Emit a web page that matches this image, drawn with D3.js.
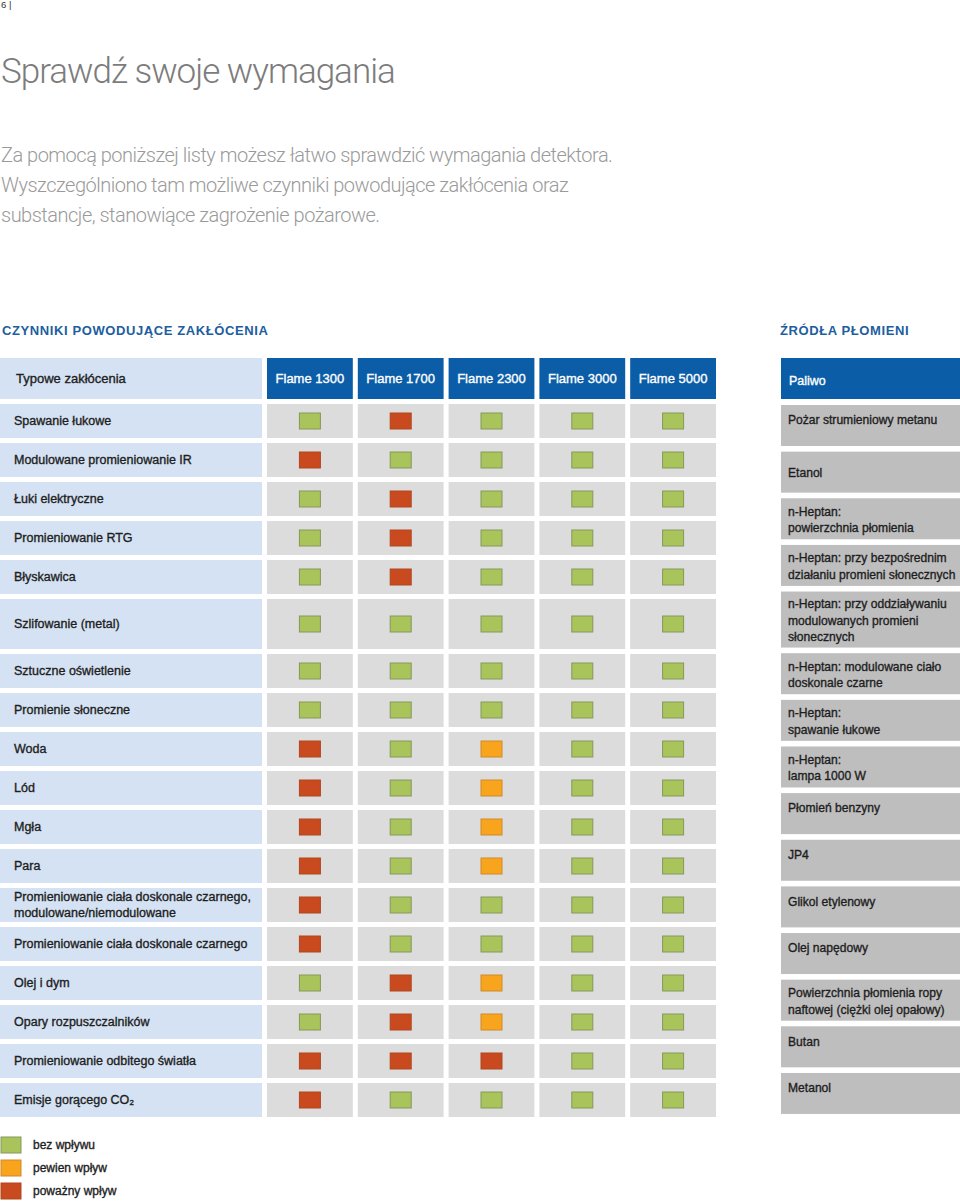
<!DOCTYPE html>
<html><head><meta charset="utf-8">
<script src="https://cdn.jsdelivr.net/npm/d3@7/dist/d3.min.js"></script>
<style>
body{margin:0;background:#fff;}
svg{display:block;}
</style></head>
<body>
<script>
// ---------- DATA ----------
const flames = ["Flame 1300", "Flame 1700", "Flame 2300", "Flame 3000", "Flame 5000"];
const disturbances = [
  ["Spawanie łukowe"],
  ["Modulowane promieniowanie IR"],
  ["Łuki elektryczne"],
  ["Promieniowanie RTG"],
  ["Błyskawica"],
  ["Szlifowanie (metal)"],
  ["Sztuczne oświetlenie"],
  ["Promienie słoneczne"],
  ["Woda"],
  ["Lód"],
  ["Mgła"],
  ["Para"],
  ["Promieniowanie ciała doskonale czarnego,", "modulowane/niemodulowane"],
  ["Promieniowanie ciała doskonale czarnego"],
  ["Olej i dym"],
  ["Opary rozpuszczalników"],
  ["Promieniowanie odbitego światła"],
  ["Emisje gorącego CO₂"]
];
// 0 = bez wpływu, 1 = pewien wpływ, 2 = poważny wpływ
const impact = [
  [0, 2, 0, 0, 0],
  [2, 0, 0, 0, 0],
  [0, 2, 0, 0, 0],
  [0, 2, 0, 0, 0],
  [0, 2, 0, 0, 0],
  [0, 0, 0, 0, 0],
  [0, 0, 0, 0, 0],
  [0, 0, 0, 0, 0],
  [2, 0, 1, 0, 0],
  [2, 0, 1, 0, 0],
  [2, 0, 1, 0, 0],
  [2, 0, 1, 0, 0],
  [2, 0, 0, 0, 0],
  [2, 0, 0, 0, 0],
  [0, 2, 1, 0, 0],
  [0, 2, 1, 0, 0],
  [2, 2, 2, 0, 0],
  [2, 0, 0, 0, 0]
];
const fuels = [
  ["Pożar strumieniowy metanu"],
  ["Etanol"],
  ["n-Heptan:", "powierzchnia płomienia"],
  ["n-Heptan: przy bezpośrednim", "działaniu promieni słonecznych"],
  ["n-Heptan: przy oddziaływaniu", "modulowanych promieni", "słonecznych"],
  ["n-Heptan: modulowane ciało", "doskonale czarne"],
  ["n-Heptan:", "spawanie łukowe"],
  ["n-Heptan:", "lampa 1000 W"],
  ["Płomień benzyny"],
  ["JP4"],
  ["Glikol etylenowy"],
  ["Olej napędowy"],
  ["Powierzchnia płomienia ropy", "naftowej (ciężki olej opałowy)"],
  ["Butan"],
  ["Metanol"]
];
const legendLabels = ["bez wpływu", "pewien wpływ", "poważny wpływ"];
const titleText = "Sprawdź swoje wymagania";
const introLines = [
  "Za pomocą poniższej listy możesz łatwo sprawdzić wymagania detektora.",
  "Wyszczególniono tam możliwe czynniki powodujące zakłócenia oraz",
  "substancje, stanowiące zagrożenie pożarowe."
];
const sectionLeft = "CZYNNIKI POWODUJĄCE ZAKŁÓCENIA";
const sectionRight = "ŹRÓDŁA PŁOMIENI";
const headLabel = "Typowe zakłócenia";
const headFuel = "Paliwo";

// ---------- STYLE / LAYOUT ----------
const W = 960, H = 1201;
const BLUE = "#0b5da8", TITLEBLUE = "#1c5e9e", LBLUE = "#d5e2f3", CGRAY = "#dcdcdc", RGRAY = "#bebebe";
const FONT = "'Liberation Sans', Arial, Helvetica, sans-serif";
const TXT = "#1e1e1e";
const color = d3.scaleOrdinal().domain([0, 1, 2]).range(["#a9c45b", "#f8a41d", "#c84a1e"]);
const stroke = d3.scaleOrdinal().domain([0, 1, 2]).range(["#86985a", "#cf8a2a", "#b0461f"]);

const svg = d3.select("body").append("svg").attr("width", W).attr("height", H)
  .style("font-family", FONT);

// heavier text helper (medium weight look)
function heavy(sel, c) {
  return sel.attr("fill", c).attr("stroke", c).attr("stroke-width", 0.35);
}

// page number
svg.append("text").attr("x", 1).attr("y", 8).attr("font-size", 9.5).attr("fill", "#333").text("6 |");

// title
svg.append("text").attr("x", 1).attr("y", 83).attr("font-family", "Roboto, 'Open Sans', sans-serif")
  .attr("font-weight", 300).attr("font-size", 35).attr("letter-spacing", -1)
  .attr("fill", "#7c7c7c").text(titleText);

svg.append("g").selectAll("text").data(introLines).join("text")
  .attr("x", 1).attr("y", (d, i) => 162 + i * 30)
  .attr("font-family", "Roboto, 'Open Sans', sans-serif").attr("font-weight", 300)
  .attr("font-size", 20).attr("letter-spacing", -0.5).attr("fill", "#9a9a9a").text(d => d);

// section titles
svg.append("text").attr("x", 2).attr("y", 335).attr("font-size", 13).attr("font-weight", "bold")
  .attr("letter-spacing", 0.6).attr("fill", TITLEBLUE).text(sectionLeft);
svg.append("text").attr("x", 780).attr("y", 335).attr("font-size", 13).attr("font-weight", "bold")
  .attr("letter-spacing", 0.6).attr("fill", TITLEBLUE).text(sectionRight);

// ---------- LEFT TABLE ----------
const labelW = 262;
const x = d3.scaleBand().domain(flames).range([267, 716]).paddingInner(5 / 91).paddingOuter(0);
const headTop = 358, headH = 41;
const rowStart = 404, rowGap = 5;
const rowH = disturbances.map((d, i) => i === 5 ? 50 : 34);
const rowY = [];
rowH.reduce((acc, h, i) => { rowY[i] = acc; return acc + h + rowGap; }, rowStart);

// header
svg.append("rect").attr("x", 0).attr("y", headTop).attr("width", labelW).attr("height", headH).attr("fill", LBLUE);
heavy(svg.append("text").attr("x", 16).attr("y", headTop + headH / 2).attr("dy", "0.35em")
  .attr("font-size", 13), TXT).text(headLabel);
const hg = svg.append("g").selectAll("g").data(flames).join("g");
hg.append("rect").attr("x", d => x(d)).attr("y", headTop).attr("width", x.bandwidth()).attr("height", headH).attr("fill", BLUE);
heavy(hg.append("text").attr("x", d => x(d) + x.bandwidth() / 2).attr("y", headTop + headH / 2).attr("dy", "0.35em")
  .attr("text-anchor", "middle").attr("font-size", 13), "#fff").text(d => d);

// rows
const rows = svg.append("g").selectAll("g").data(disturbances).join("g")
  .attr("transform", (d, i) => `translate(0,${rowY[i]})`);
rows.append("rect").attr("x", 0).attr("width", labelW).attr("height", (d, i) => rowH[i]).attr("fill", LBLUE);
rows.each(function (lines, i) {
  const g = d3.select(this);
  const lh = 16;
  const y0 = rowH[i] / 2 - (lines.length - 1) * lh / 2;
  heavy(g.selectAll("text").data(lines).join("text")
    .attr("x", 14).attr("y", (d, k) => y0 + k * lh).attr("dy", "0.35em")
    .attr("font-size", 12.5), TXT).text(d => d);
  const cells = g.selectAll("g.cell").data(impact[i].map((v, j) => ({ v, f: flames[j] }))).join("g").attr("class", "cell");
  cells.append("rect").attr("x", d => x(d.f)).attr("width", x.bandwidth()).attr("height", rowH[i]).attr("fill", CGRAY);
  cells.append("rect").attr("x", d => x(d.f) + x.bandwidth() / 2 - 10.5).attr("y", rowH[i] / 2 - 8)
    .attr("width", 21).attr("height", 16)
    .attr("fill", d => color(d.v)).attr("stroke", d => stroke(d.v)).attr("stroke-width", 1);
});

// ---------- RIGHT TABLE ----------
const rx = 781, rw = W - rx;
svg.append("rect").attr("x", rx).attr("y", headTop).attr("width", rw).attr("height", headH).attr("fill", BLUE);
heavy(svg.append("text").attr("x", rx + 8).attr("y", headTop + headH / 2 + 2).attr("dy", "0.35em")
  .attr("font-size", 12.5), "#fff").text(headFuel);

const fStart = 405, fGap = 5.64;
const fH = fuels.map(d => d.length === 3 ? 56 : 41);
const fY = [];
fH.reduce((acc, h, i) => { fY[i] = acc; return acc + h + fGap; }, fStart);
const centeredSingle = new Set(["Etanol"]);

const fg = svg.append("g").selectAll("g").data(fuels).join("g")
  .attr("transform", (d, i) => `translate(${rx},${fY[i]})`);
fg.append("rect").attr("width", rw).attr("height", (d, i) => fH[i]).attr("fill", RGRAY);
fg.each(function (lines, i) {
  const lh = 16.5;
  let y0;
  if (lines.length === 1 && !centeredSingle.has(lines[0])) y0 = 14;
  else y0 = fH[i] / 2 - (lines.length - 1) * lh / 2;
  heavy(d3.select(this).selectAll("text").data(lines).join("text")
    .attr("x", 7).attr("y", (d, k) => y0 + k * lh + 1).attr("dy", "0.35em")
    .attr("font-size", 12.1), TXT).text(d => d);
});

// ---------- LEGEND ----------
const lg = svg.append("g").selectAll("g").data(legendLabels).join("g")
  .attr("transform", (d, i) => `translate(0,${1137 + i * 23})`);
lg.append("rect").attr("x", 1).attr("width", 20).attr("height", 16)
  .attr("fill", (d, i) => color(i)).attr("stroke", (d, i) => stroke(i));
heavy(lg.append("text").attr("x", 33).attr("y", 8).attr("dy", "0.35em").attr("font-size", 12), TXT)
  .text(d => d);
</script>
</body></html>
